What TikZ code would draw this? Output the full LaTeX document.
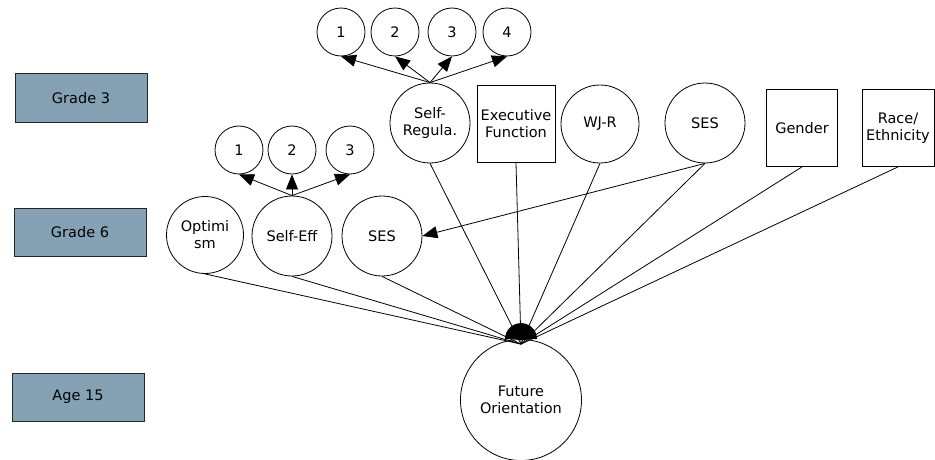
\documentclass[tikz,border=0pt]{standalone}
\usepackage{fontspec}
\setmainfont{DejaVu Sans}
\usetikzlibrary{arrows.meta}
\definecolor{gradefill}{RGB}{132,162,180}
\tikzset{
  every node/.style={font=\fontsize{14.5}{17}\selectfont, align=center, inner sep=0pt},
  latent/.style={circle, draw, line width=0.8pt, fill=white, minimum size=#1},
  latent/.default=80pt,
  item/.style={circle, draw, line width=0.8pt, fill=white, minimum size=48pt},
  observed/.style={rectangle, draw, line width=0.8pt, fill=white, minimum width=#1, minimum height=77pt},
  observed/.default=78pt,
  wave/.style={rectangle, draw=black!85, line width=1pt, fill=gradefill, minimum width=132pt, minimum height=48pt},
  path/.style={line width=0.8pt},
  loading/.style={line width=0.8pt, -{Triangle[length=15pt,width=12pt]}},
}
\begin{document}
\begin{tikzpicture}[x=1pt,y=-1pt]
\useasboundingbox (0,0) rectangle (935,460);

% measurement waves
\node[wave] (g3) at (81,98) {Grade 3};
\node[wave] (g6) at (80,232) {Grade 6};
\node[wave] (a15) at (78,397) {Age 15};

% Grade 3 constructs
\node[latent] (sr) at (430,123) {Self-\\Regula.};
\node[observed] (ef) at (516,124) {Executive\\Function};
\node[latent=78pt] (wj) at (600,124) {WJ-R};
\node[latent] (ses3) at (705,123) {SES};
\node[observed=71pt] (gen) at (802,128) {Gender};
\node[observed=72pt] (race) at (898,128) {Race/\\Ethnicity};

% self-regulation indicators
\node[item] (sr1) at (341,32) {1};
\node[item] (sr2) at (395,32) {2};
\node[item] (sr3) at (452,32) {3};
\node[item] (sr4) at (507,32) {4};

% Grade 6 constructs
\node[latent=77pt] (opt) at (205,235) {Optimi\\sm};
\node[latent] (se) at (292,236) {Self-Eff};
\node[latent] (ses6) at (382,236) {SES};

% self-efficacy indicators
\node[item] (se1) at (239,150) {1};
\node[item] (se2) at (292,150) {2};
\node[item] (se3) at (350,150) {3};

% outcome
\node[latent=121pt] (fo) at (521,400) {Future\\Orientation};
\coordinate (hub) at (fo.north);

% indicator loadings
\foreach \k in {sr1,sr2,sr3,sr4} \draw[loading] (sr.north) -- (\k.south);
\foreach \k in {se1,se2,se3} \draw[loading] (se.north) -- (\k.south);

% SES stability path
\draw[loading] (ses3.south) -- (ses6.east);

% paths into future orientation
\foreach \s in {opt,se,ses6,sr,ef,wj,ses3,gen,race}
  \draw[path] (\s.south) -- ([yshift=-5pt]hub);

% converging arrowheads (dome above the outcome)
\fill (hub) ++(-16,0) arc[start angle=180, end angle=360, radius=16] -- cycle;
\end{tikzpicture}
\end{document}
